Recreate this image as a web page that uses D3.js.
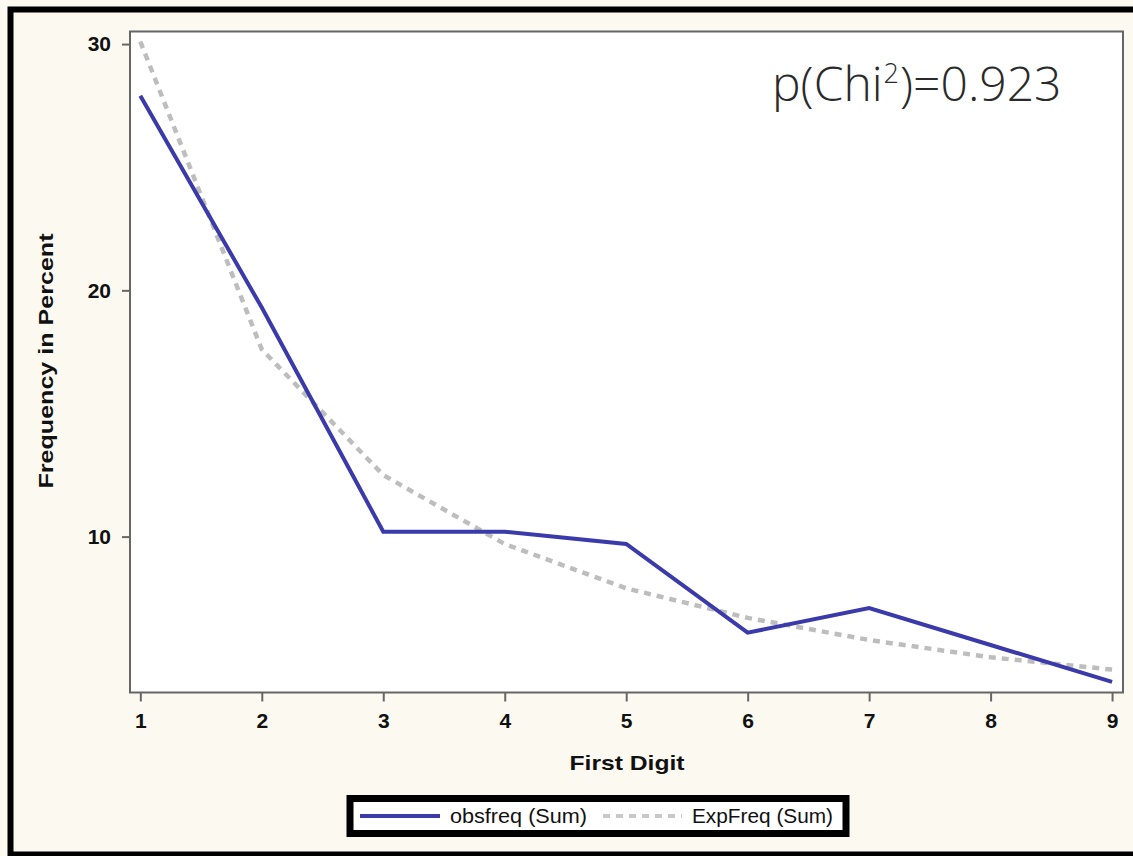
<!DOCTYPE html>
<html>
<head>
<meta charset="utf-8">
<script src="https://cdn.jsdelivr.net/npm/d3@7/dist/d3.min.js"></script>
<style>
body{margin:0;background:#fff;}
text{font-family:"Liberation Sans",Arial,sans-serif;}
</style>
</head>
<body>
<div id="root"></div>
<script>
// first digit data (percent)
var digits=[1,2,3,4,5,6,7,8,9];
var obsFreq=[27.9,19.3,10.2,10.2,9.7,6.1,7.1,5.6,4.1];
var expFreq=[30.1,17.6,12.5,9.7,7.9,6.7,5.8,5.1,4.6];
var yTicks=[10,20,30];
var seriesNames=['obsfreq (Sum)','ExpFreq (Sum)'];

var W=1133,H=856;
var p={l:130,r:1123,t:31.5,b:692.5};

var svg=d3.select('#root').append('svg').attr('width',W).attr('height',H);

svg.append('rect').attr('width',W).attr('height',H).attr('fill','#fcf9f1');
// outer black frame
svg.append('rect').attr('x',10.5).attr('y',9.5).attr('width',1200).attr('height',845)
	.attr('fill','none').attr('stroke','#000').attr('stroke-width',6);

svg.append('rect').attr('x',p.l).attr('y',p.t).attr('width',p.r-p.l).attr('height',p.b-p.t).attr('fill','#fff');

var x=d3.scaleLinear().domain([0.915,9.09]).range([p.l,p.r]);
var y=d3.scaleLinear().domain([3.67,30.51]).range([p.b,p.t]);

var xAxis=d3.axisBottom(x).tickValues(digits).tickSize(9).tickPadding(12).tickFormat(d3.format('d'));
var yAxis=d3.axisLeft(y).tickValues(yTicks).tickSize(8).tickPadding(11);

var gx=svg.append('g').attr('transform','translate(0,'+p.b+')').call(xAxis);
var gy=svg.append('g').attr('transform','translate('+p.l+',0)').call(yAxis);
[gx,gy].forEach(function(g){
	g.select('.domain').remove();
	g.selectAll('line').attr('stroke','#666').attr('stroke-width',2);
	g.selectAll('text').attr('fill','#111').style('font-size','21px').style('font-weight','bold');
});

var line=d3.line().x(function(d,i){return x(digits[i])}).y(function(d){return y(d)});

svg.append('path').attr('d',line(expFreq)).attr('fill','none')
	.attr('stroke','#bdbdbd').attr('stroke-width',4.5).attr('stroke-dasharray','7,6');
svg.append('path').attr('d',line(obsFreq)).attr('fill','none')
	.attr('stroke','#3a3aab').attr('stroke-width',4).attr('stroke-linejoin','miter');

// plot frame
svg.append('rect').attr('x',p.l).attr('y',p.t).attr('width',p.r-p.l).attr('height',p.b-p.t)
	.attr('fill','none').attr('stroke','#666').attr('stroke-width',2);

svg.append('text').attr('x',627).attr('y',770).attr('text-anchor','middle')
	.style('font-size','21px').style('font-weight','bold').attr('fill','#111')
	.attr('textLength',115).attr('lengthAdjust','spacingAndGlyphs').text('First Digit');

svg.append('text').attr('transform','translate(53,361) rotate(-90)').attr('text-anchor','middle')
	.style('font-size','20px').style('font-weight','bold').attr('fill','#111')
	.attr('textLength',255).attr('lengthAdjust','spacingAndGlyphs').text('Frequency in Percent');

// annotation, three pieces laid out side by side
var annParts=[{t:'p(Chi',s:48,dy:0},{t:'2',s:27,dy:-18},{t:')=0.923',s:48,dy:0}];
var ax=772;
annParts.forEach(function(a){
	var t=svg.append('text').attr('x',ax).attr('y',101+a.dy).attr('fill','#2a2a2a')
		.style('font-family','"Open Sans",sans-serif').style('font-weight','300')
		.style('font-size',a.s+'px').text(a.t);
	ax+=t.node().getComputedTextLength()+1;
});

// legend
var lg=svg.append('g');
lg.append('rect').attr('x',350).attr('y',798.5).attr('width',496).attr('height',35)
	.attr('fill','#fff').attr('stroke','#000').attr('stroke-width',7);
lg.append('line').attr('x1',360).attr('x2',440).attr('y1',816).attr('y2',816)
	.attr('stroke','#3a3aab').attr('stroke-width',4);
lg.append('text').attr('x',450).attr('y',823).style('font-size','20px').attr('fill','#111')
	.attr('textLength',137).attr('lengthAdjust','spacingAndGlyphs').text(seriesNames[0]);
lg.append('line').attr('x1',603).attr('x2',682).attr('y1',816).attr('y2',816)
	.attr('stroke','#c8c8c8').attr('stroke-width',4).attr('stroke-dasharray','7,6');
lg.append('text').attr('x',692).attr('y',823).style('font-size','20px').attr('fill','#111')
	.attr('textLength',141).attr('lengthAdjust','spacingAndGlyphs').text(seriesNames[1]);
</script>
</body>
</html>
